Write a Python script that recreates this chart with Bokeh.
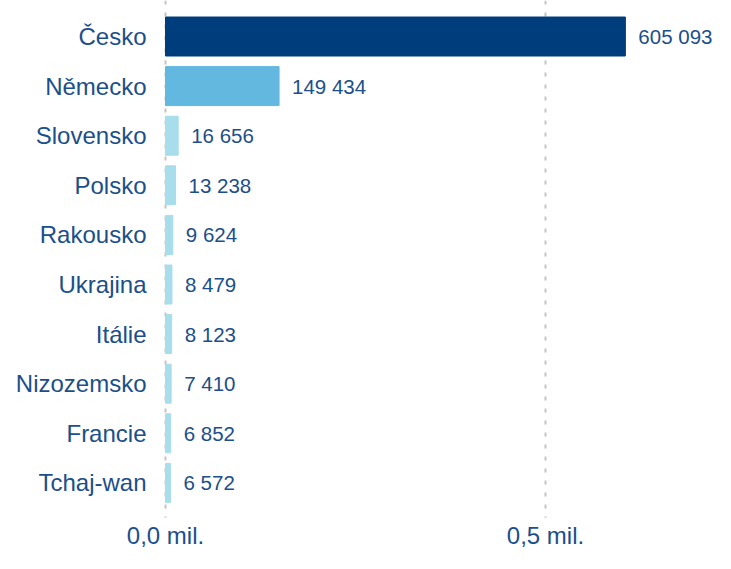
from bokeh.plotting import figure
from bokeh.models import Range1d, ColumnDataSource
from bokeh.embed import file_html
from bokeh.resources import INLINE
from bokeh.core.properties import value

countries = ["Česko", "Německo", "Slovensko", "Polsko", "Rakousko", "Ukrajina",
             "Itálie", "Nizozemsko", "Francie", "Tchaj-wan"]
values = [605093, 149434, 16656, 13238, 9624, 8479, 8123, 7410, 6852, 6572]
value_labels = ["605 093", "149 434", "16 656", "13 238", "9 624", "8 479",
                "8 123", "7 410", "6 852", "6 572"]
bar_colors = ["#003d7c", "#63b8e0"] + ["#a8ddec"] * 8
x_ticks = [0, 500000]
x_tick_labels = ["0,0 mil.", "0,5 mil."]

TEXT = "#1b4f8a"
FONT = "Liberation Sans"

Y_TOP, Y_BOTTOM = -0.726, 10.423
GRID_END = 9.7
TICK_LABEL_Y = 10.06

idx = list(range(len(countries)))
src = ColumnDataSource(dict(y=idx, v=values, lab=value_labels, c=bar_colors,
                            cat=countries, zero=[0] * len(idx)))

p = figure(width=715, height=553, output_backend="svg", toolbar_location=None,
           x_range=Range1d(-217105, 723684), y_range=Range1d(Y_BOTTOM, Y_TOP),
           min_border=0, x_axis_location=None, y_axis_location=None)
p.outline_line_color = None
p.background_fill_color = "white"
p.xgrid.visible = False
p.ygrid.visible = False

# dotted gridlines at the tick values
p.segment(x0=x_ticks, x1=x_ticks, y0=[Y_TOP] * 2, y1=[GRID_END] * 2,
          line_color="#c4c4c4", line_width=2, line_dash="4 8")

p.hbar(y="y", right="v", left=0, height=0.786, color="c", source=src)

# value labels
p.text(x="v", y="y", text="lab", source=src, x_offset=13, text_baseline="middle",
       text_align="left", text_font=value(FONT), text_font_size="20.5px",
       text_color=TEXT)

# category labels
p.text(x="zero", y="y", text="cat", source=src, x_offset=-19, text_baseline="middle",
       text_align="right", text_font=value(FONT), text_font_size="24px",
       text_color=TEXT)

# x tick labels
p.text(x=x_ticks, y=[TICK_LABEL_Y] * 2, text=x_tick_labels, text_baseline="middle",
       text_align="center", text_font=value(FONT), text_font_size="24px",
       text_color=TEXT)

open("out.html", "w").write(file_html(p, INLINE))
